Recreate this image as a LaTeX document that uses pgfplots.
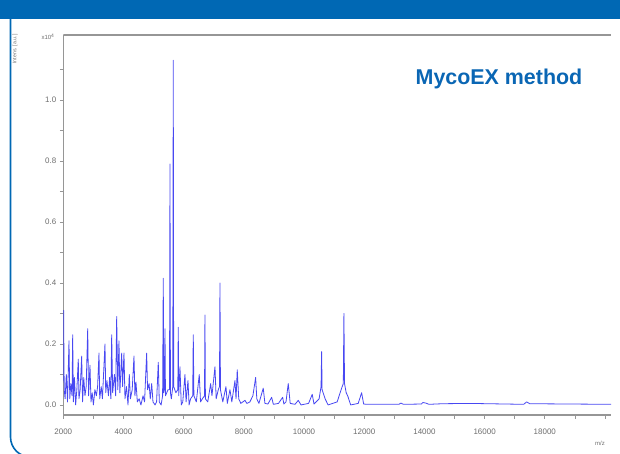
\documentclass[border=0pt]{standalone}
\usepackage{pgfplots}
\pgfplotsset{compat=1.18}
\usepackage{fontspec}
\setmainfont{Liberation Sans}
\definecolor{hdr}{RGB}{0,104,180}
\definecolor{ttl}{RGB}{10,102,180}
\definecolor{spec}{RGB}{40,40,240}
\definecolor{axg}{RGB}{150,150,150}
\definecolor{tkg}{RGB}{110,110,110}
\begin{document}
\begin{tikzpicture}
\useasboundingbox (0bp,0bp) rectangle (620bp,454bp);
\fill[white] (0bp,0bp) rectangle (620bp,454bp);
\fill[hdr] (0bp,435bp) rectangle (620bp,454bp);
\draw[hdr, line width=1.6bp, rounded corners=20bp] (10.5bp,436bp) -- (10.5bp,-3bp) -- (700bp,-3bp);
\begin{axis}[
  at={(63.3bp,39bp)}, anchor=south west, scale only axis,
  width=547.7bp, height=380bp,
  xmin=2000, xmax=20200, ymin=-0.033, ymax=1.213,
  axis lines=left, axis line style={-, draw=axg, line width=1.5bp},
  tick align=outside, tick style={draw=axg, line width=0.6bp},
  major tick length=3.5bp, minor tick length=3.5bp,
  xtick={2000,4000,6000,8000,10000,12000,14000,16000,18000},
  minor xtick={3000,5000,7000,9000,11000,13000,15000,17000,19000,20000},
  ytick={0,0.2,0.4,0.6,0.8,1.0}, minor ytick={0.1,0.3,0.5,0.7,0.9,1.1},
  scaled x ticks=false, scaled y ticks=false,
  /pgf/number format/assume math mode=true,
  xticklabel style={font=\fontsize{8}{9}\selectfont, text=tkg, yshift=-7bp, /pgf/number format/1000 sep={}},
  yticklabel style={font=\fontsize{8}{9}\selectfont, text=tkg, /pgf/number format/fixed, /pgf/number format/precision=1, /pgf/number format/fixed zerofill},
  clip=true,
]
\draw[axg, line width=1.5bp] (rel axis cs:0,1) -- (rel axis cs:1,1);
\addplot[spec, line width=0.8bp, line join=round, opacity=0.85] coordinates {
(2000,0.08)(2010,0.31)(2030,0.05)(2060,0.02)(2100,0.10)(2140,0.01)(2189,0.21)(2215,0.02)
(2250,0.07)(2290,0.03)(2312,0.23)(2335,0.01)(2370,0.09)(2410,0.0)(2450,0.05)(2498,0.15)
(2520,0.02)(2560,0.05)(2611,0.16)(2640,0.01)(2680,0.09)(2720,0.03)(2760,0.06)(2811,0.25)
(2840,0.03)(2887,0.13)(2920,0.01)(2960,0.04)(3000,0.0)(3050,0.05)(3100,0.03)(3140,0.06)
(3186,0.17)(3210,0.02)(3260,0.06)(3300,0.02)(3385,0.20)(3410,0.04)(3450,0.08)(3500,0.03)
(3540,0.09)(3580,0.02)(3608,0.23)(3640,0.04)(3700,0.10)(3740,0.03)(3774,0.29)(3810,0.05)
(3850,0.21)(3880,0.04)(3940,0.17)(3970,0.06)(4016,0.17)(4050,0.02)(4100,0.06)(4150,0.0)
(4193,0.10)(4230,0.02)(4290,0.05)(4349,0.16)(4380,0.03)(4415,0.075)(4460,0.01)(4520,0.02)
(4580,0.0)(4650,0.03)(4700,0.01)(4770,0.17)(4800,0.05)(4850,0.07)(4890,0.02)(4937,0.07)
(4980,0.01)(5050,0.0)(5100,0.01)(5156,0.14)(5190,0.01)(5250,0.0)(5300,0.03)(5322,0.415)
(5338,0.04)(5360,0.05)(5379,0.25)(5395,0.03)(5480,0.05)(5530,0.05)(5545,0.79)(5560,0.04)
(5590,0.02)(5638,0.06)(5654,1.13)(5668,0.06)(5740,0.04)(5805,0.05)(5820,0.255)(5835,0.03)
(5877,0.125)(5920,0.0)(5970,0.01)(6043,0.10)(6080,0.01)(6143,0.08)
(6180,0.0)(6230,0.02)(6300,0.03)(6319,0.23)(6340,0.03)(6420,0.01)(6518,0.10)(6560,0.01)(6620,0.02)
(6692,0.03)(6707,0.295)(6722,0.02)(6800,0.01)(6897,0.07)(6940,0.03)(7040,0.125)(7080,0.02)(7150,0.05)
(7190,0.06)(7206,0.40)(7222,0.05)(7300,0.01)(7405,0.06)(7450,0.005)(7538,0.05)(7600,0.01)(7704,0.08)
(7740,0.02)(7780,0.115)(7830,0.02)(7900,0.005)(8036,0.015)(8100,0.005)(8200,0.01)(8300,0.03)
(8391,0.09)(8430,0.02)(8500,0.005)(8644,0.055)(8700,0.005)(8800,0.003)(8923,0.025)(8980,0.002)
(9150,0.005)(9288,0.025)(9330,0.003)(9400,0.01)(9475,0.07)(9540,0.005)(9700,0.002)(9807,0.015)
(9900,0.0)(10150,0.005)(10272,0.035)(10330,0.003)(10500,0.02)(10565,0.06)(10584,0.175)(10600,0.05)
(10700,0.02)(10800,0.0)(11100,0.01)(11249,0.055)(11305,0.07)(11325,0.30)(11345,0.07)(11400,0.04)(11450,0.03)(11550,0.0)
(11800,0.005)(11913,0.04)(11980,0.003)(12100,0.002)(13150,0.002)(13218,0.006)(13300,0.002)
(13900,0.003)(13950,0.008)(14050,0.006)(14150,0.002)(14600,0.004)(15500,0.005)(17300,0.002)
(17395,0.01)(17500,0.004)(20200,0.002)
};
\end{axis}
\node[text=tkg, font=\fontsize{5.2}{6}\selectfont, rotate=90] at (15bp,405bp) {Intens. [a.u.]};
\node[text=tkg, font=\fontsize{6}{7}\selectfont] at (48bp,417bp) {x10\textsuperscript{4}};
\node[text=tkg, font=\fontsize{6}{7}\selectfont] at (600bp,11bp) {m/z};
\node[text=ttl, font=\fontsize{21.5}{24}\selectfont\bfseries, anchor=base] at (499bp,369bp) {MycoEX method};
\end{tikzpicture}
\end{document}
